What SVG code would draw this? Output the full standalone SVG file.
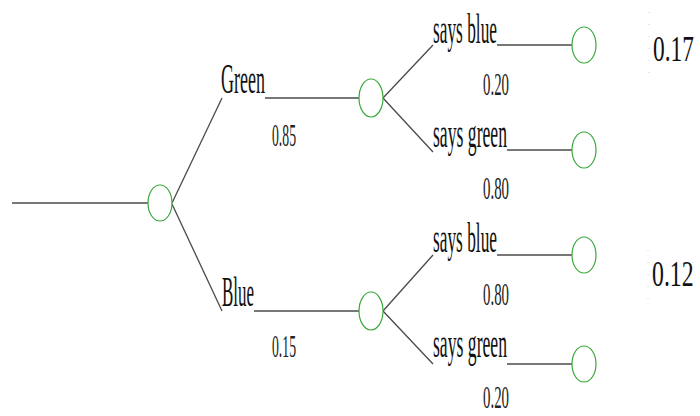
<svg xmlns="http://www.w3.org/2000/svg" width="700" height="416" viewBox="0 0 700 416">
<style>
.ln{stroke:#4a4a4a;stroke-width:1.3;fill:none}
.nd{fill:#fff;stroke:#3aa83a;stroke-width:1.2}
.lb{font-family:"Liberation Serif","Times New Roman",serif;fill:#111;font-size:42px}
.pr{font-family:"Liberation Serif","Times New Roman",serif;fill:#222;font-size:32px}
.res{font-family:"Liberation Serif","Times New Roman",serif;fill:#111;font-size:36px}
.tick{stroke:#cfcfcf;stroke-width:1;stroke-dasharray:1 11}
</style>
<rect width="700" height="416" fill="#fff"/>
<g id="connectors">
<line class="ln" x1="12" y1="203" x2="148" y2="203"/>
<line class="ln" x1="172" y1="203" x2="222" y2="98"/>
<line class="ln" x1="265" y1="98" x2="359" y2="98"/>
<line class="ln" x1="172" y1="204" x2="222" y2="311"/>
<line class="ln" x1="254" y1="311" x2="359" y2="311"/>
<line class="ln" x1="383" y1="98" x2="433" y2="45"/>
<line class="ln" x1="383" y1="98" x2="433" y2="152"/>
<line class="ln" x1="497" y1="45" x2="572" y2="45"/>
<line class="ln" x1="507" y1="150" x2="572" y2="150"/>
<line class="ln" x1="383" y1="311" x2="433" y2="255"/>
<line class="ln" x1="383" y1="311" x2="433" y2="364"/>
<line class="ln" x1="497" y1="255" x2="572" y2="255"/>
<line class="ln" x1="507" y1="364" x2="572" y2="364"/>
</g>
<g id="root"><ellipse class="nd" cx="160" cy="203" rx="12" ry="18"/></g>
<g id="green">
<text class="lb" x="221" y="93" textLength="44" lengthAdjust="spacingAndGlyphs">Green</text>
<text class="pr" x="272" y="146" textLength="24" lengthAdjust="spacingAndGlyphs">0.85</text>
<ellipse class="nd" cx="371" cy="98" rx="12" ry="19"/>
</g>
<g id="blue">
<text class="lb" x="222" y="306" textLength="32" lengthAdjust="spacingAndGlyphs">Blue</text>
<text class="pr" x="272" y="357" textLength="24" lengthAdjust="spacingAndGlyphs">0.15</text>
<ellipse class="nd" cx="371" cy="311" rx="12" ry="19"/>
</g>
<g id="green-says-blue">
<text class="lb" x="433" y="43" textLength="64" lengthAdjust="spacingAndGlyphs">says blue</text>
<text class="pr" x="483" y="95" textLength="26" lengthAdjust="spacingAndGlyphs">0.20</text>
<ellipse class="nd" cx="584" cy="45" rx="12" ry="18"/>
</g>
<g id="green-says-green">
<text class="lb" x="433" y="147" textLength="74" lengthAdjust="spacingAndGlyphs">says green</text>
<text class="pr" x="483" y="199" textLength="26" lengthAdjust="spacingAndGlyphs">0.80</text>
<ellipse class="nd" cx="584" cy="150" rx="12" ry="18"/>
</g>
<g id="blue-says-blue">
<text class="lb" x="433" y="252" textLength="64" lengthAdjust="spacingAndGlyphs">says blue</text>
<text class="pr" x="483" y="305" textLength="26" lengthAdjust="spacingAndGlyphs">0.80</text>
<ellipse class="nd" cx="584" cy="255" rx="12" ry="18"/>
</g>
<g id="blue-says-green">
<text class="lb" x="433" y="357" textLength="74" lengthAdjust="spacingAndGlyphs">says green</text>
<text class="pr" x="483" y="408" textLength="26" lengthAdjust="spacingAndGlyphs">0.20</text>
<ellipse class="nd" cx="584" cy="364" rx="12" ry="18"/>
</g>
<g id="result-green">
<line class="tick" x1="649" y1="12" x2="649" y2="84"/>
<text class="res" transform="translate(653,61) scale(0.65,1)">0.17</text>
</g>
<g id="result-blue">
<line class="tick" x1="648" y1="250" x2="648" y2="310"/>
<text class="res" transform="translate(652,286) scale(0.66,1)">0.12</text>
</g>
</svg>
